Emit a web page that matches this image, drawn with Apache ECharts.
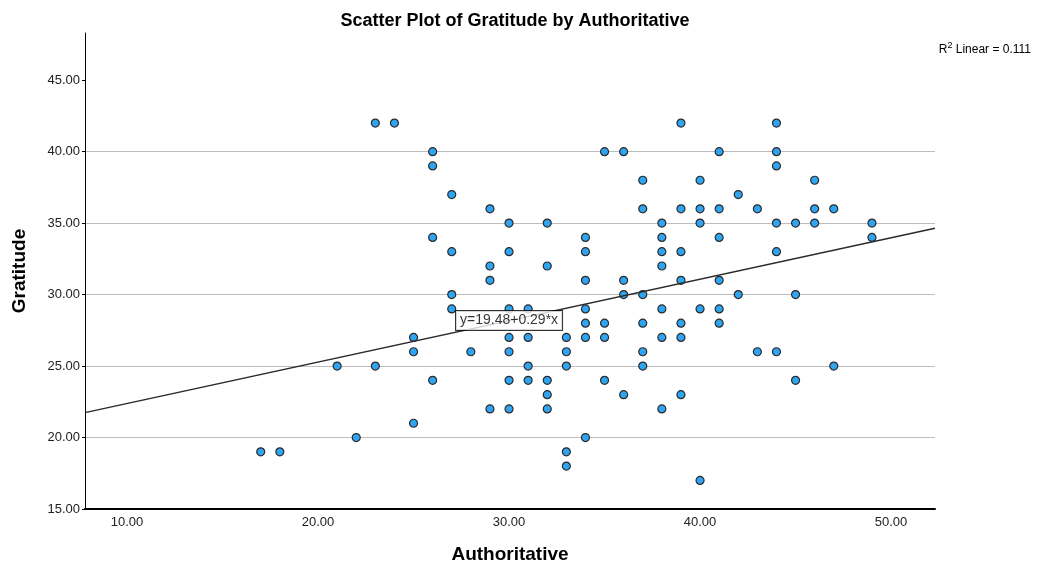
<!DOCTYPE html>
<html><head><meta charset="utf-8">
<script src="https://cdn.jsdelivr.net/npm/echarts@6/dist/echarts.min.js"></script>
<style>html,body{margin:0;padding:0;background:#fff}#c{width:1041px;height:569px}</style>
</head><body><div id="c"></div>
<script>
const authoritative = [
17,18,21,22,23,23,24,25,25,25,
26,26,26,26,27,27,27,27,28,29,29,29,29,
30,30,30,30,30,30,30,
31,31,31,31,
32,32,32,32,32,
33,33,33,33,33,
34,34,34,34,34,34,34,
35,35,35,35,
36,36,36,36,
37,37,37,37,37,37,
38,38,38,38,38,38,38,
39,39,39,39,39,39,39,
40,40,40,40,40,
41,41,41,41,41,41,
42,42,43,43,
44,44,44,44,44,44,
45,45,45,46,46,46,47,47,49,49];
const gratitude = [
19,19,25,20,42,25,42,27,26,21,
40,39,34,24,37,33,30,29,26,36,32,31,22,
35,33,29,27,26,24,22,
29,27,25,24,
35,32,24,23,22,
27,26,25,19,18,
34,33,31,29,28,27,20,
40,28,27,24,
40,31,30,23,
38,36,30,28,26,25,
35,34,33,32,29,27,22,
42,36,33,31,28,27,23,
38,36,35,29,17,
40,36,34,31,29,28,
37,30,36,26,
42,40,39,35,33,26,
35,30,24,38,36,35,36,25,35,34];
const xTicks = [10, 20, 30, 40, 50];
const yTicks = [15, 20, 25, 30, 35, 40, 45];
const intercept = 19.48;
const slope = 0.29;
const rSquared = 0.111;
const xRange = [7.8, 52.3];
const yRange = [15, 48.3];
const labelX = 30;

const points = authoritative.map((x, i) => [x, gratitude[i]]);
const fit = x => intercept + slope * x;
const FONT = '"Liberation Sans", Arial, sans-serif';

const chart = echarts.init(document.getElementById('c'), null, {renderer: 'canvas'});
chart.setOption({
  animation: false,
  backgroundColor: '#fff',
  textStyle: {fontFamily: FONT},
  title: [
    {text: 'Scatter Plot of Gratitude by Authoritative', left: 510, textAlign: 'center', top: 7,
     textStyle: {fontFamily: FONT, fontSize: 18, fontWeight: 'bold', color: '#000'}},
    {text: '{a|R}{s|2}{a| Linear = ' + rSquared.toFixed(3) + '}', right: 5, top: 36,
     textStyle: {fontWeight: 'normal', rich: {
       a: {fontFamily: FONT, fontSize: 12, fontWeight: 'normal', color: '#000', verticalAlign: 'bottom'},
       s: {fontFamily: FONT, fontSize: 9, fontWeight: 'normal', color: '#000', verticalAlign: 'top', padding: [0,0,6,0]}}}}
  ],
  grid: {left: 85, right: 106, top: 33, bottom: 60, containLabel: false, outerBoundsMode: 'none'},
  xAxis: {
    type: 'value', min: xRange[0], max: xRange[1],
    name: 'Authoritative', nameLocation: 'middle', nameGap: 36,
    nameTextStyle: {fontFamily: FONT, fontSize: 19, fontWeight: 'bold', color: '#000'},
    axisLine: {show: true, onZero: false, lineStyle: {color: '#000', width: 2}},
    axisTick: {show: false},
    splitLine: {show: false},
    axisLabel: {customValues: xTicks, formatter: v => v.toFixed(2), fontSize: 13, color: '#222', margin: 7, fontFamily: FONT}
  },
  yAxis: {
    type: 'value', min: yRange[0], max: yRange[1], interval: 5,
    name: 'Gratitude', nameLocation: 'middle', nameGap: 56, nameRotate: 90,
    nameTextStyle: {fontFamily: FONT, fontSize: 19, fontWeight: 'bold', color: '#000'},
    axisLine: {show: true, onZero: false, lineStyle: {color: '#000', width: 1}},
    axisTick: {show: true, customValues: yTicks, length: 3, lineStyle: {color: '#000'}},
    splitLine: {show: true, showMaxLine: false, lineStyle: {color: '#bdbdbd', width: 1}},
    axisLabel: {customValues: yTicks, formatter: v => v.toFixed(2), fontSize: 13, color: '#222', margin: 5, fontFamily: FONT}
  },
  series: [
    {type: 'scatter', data: points, symbol: 'circle', symbolSize: 8, z: 2,
     itemStyle: {color: '#2fa4f0', borderColor: '#2b2b2b', borderWidth: 1.2, opacity: 1}},
    {type: 'line', data: [[xRange[0], fit(xRange[0])], [xRange[1], fit(xRange[1])]],
     showSymbol: false, symbol: 'none', z: 3, silent: true,
     lineStyle: {color: '#2a2a2a', width: 1.5}},
    {type: 'scatter', data: [[labelX, fit(labelX)]], symbolSize: 0, z: 5, silent: true,
     label: {show: true, position: 'inside', formatter: 'y=' + intercept.toFixed(2) + '+' + slope.toFixed(2) + '*x',
             fontFamily: FONT, fontSize: 14, color: '#000', backgroundColor: '#fff',
             borderColor: '#000', borderWidth: 1, padding: [3, 4, 2, 4]}}
  ]
});
</script></body></html>
